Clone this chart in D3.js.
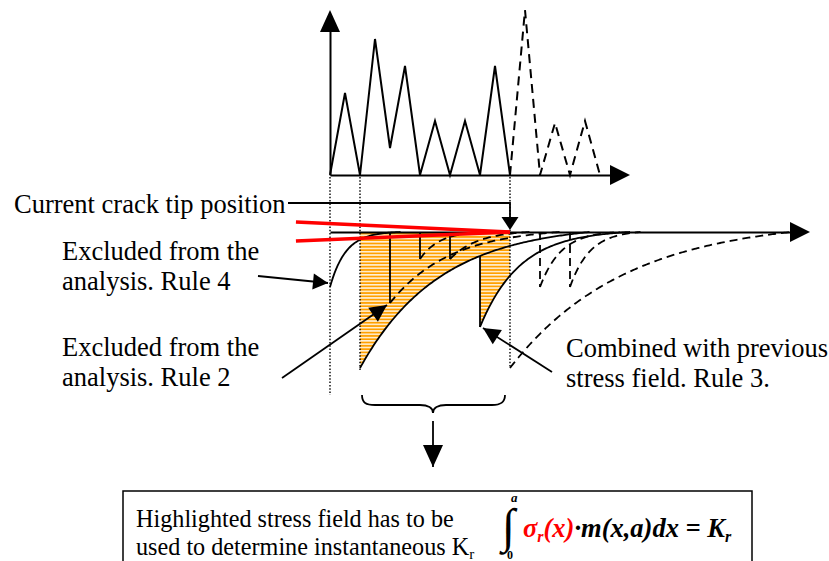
<!DOCTYPE html>
<meta charset="utf-8">
<style>
    body { margin: 0; background: #fff; }
    svg text { font-family: "Liberation Serif", "Times New Roman", serif; font-size: 26.5px; fill: #000; }
    .formula { font-weight: bold; font-style: italic; }
</style>
<body>
<div id="canvas"></div>
<script src="https://d3js.org/d3.v7.min.js"></script>
<script>

// load history, one value per half cycle (top chart)
var loadPast   = [0, 82, 0, 136, 27, 109, 0, 54, 0, 54, 0, 109, 0];
var loadFuture = [0, 165, 0, 52, 0, 54, 0];
var crackTip = 12;            // index where the past ends / current crack tip

// residual stress fields left by the overloads (bottom chart)
var fieldPos    = [0, 2, 4, 6, 8, 10, 12, 14, 16];
var fieldStress = [-55, -136, -71, -27, -27, -95, -136, -55, -55];
var fieldDecay  = [1.05, 5.33, 4, 1.33, 1.87, 2.67, 7.67, 1.4, 1.33];
var fieldLength = [4.7, 15.3, 11.3, 4, 5.3, 10, 18.7, 5.3, 4.7];
var fieldState  = ["rule4", "used", "rule2", "rule2", "rule2", "rule3", "future", "future", "future"];

// dotted guide lines between the two charts
var guidePos   = [0, 2, 12];
var guideDepth = [-163, -138, -136];

var svg = d3.select("#canvas").append("svg")
    .attr("width", 829)
    .attr("height", 561);

// scales
var x = d3.scaleLinear().domain([0, 1]).range([330, 345]);       // 15px per half cycle
var ly = d3.scaleLinear().domain([0, 165]).range([175, 10]);     // load
var sy = d3.scaleLinear().domain([0, -140]).range([232, 372]);   // stress

function arrowHead(tipX, tipY, dx, dy, len, half) {
    var n = Math.sqrt(dx * dx + dy * dy);
    dx /= n; dy /= n;
    var bx = tipX - dx * len, by = tipY - dy * len;
    var pts = [[tipX, tipY], [bx - dy * half, by + dx * half], [bx + dy * half, by - dx * half]];
    svg.append("path")
        .attr("d", "M" + pts.join("L") + "Z")
        .attr("fill", "#000");
}

function arrow(x1, y1, x2, y2, len, half) {
    svg.append("line")
        .attr("x1", x1).attr("y1", y1).attr("x2", x2).attr("y2", y2)
        .attr("stroke", "#000").attr("stroke-width", 1.8);
    arrowHead(x2, y2, x2 - x1, y2 - y1, len, half);
}

// ---- top chart : axes ----
var xTop = x.copy().domain([0, 19.3]).range([x(0), x(19.3)]);
svg.append("g")
    .attr("transform", "translate(0," + ly(0) + ")")
    .call(d3.axisBottom(xTop).tickValues([]).tickSizeOuter(0))
    .select(".domain").attr("stroke-width", 2);
svg.append("g")
    .attr("transform", "translate(" + x(0) + ",0)")
    .call(d3.axisLeft(ly.copy().range([175, 28])).tickValues([]).tickSizeOuter(0))
    .select(".domain").attr("stroke-width", 2);
arrowHead(x(0), ly(165), 0, -1, 22, 10);
arrowHead(x(20), ly(0), 1, 0, 20, 10);

// load sequence
var loadLine = d3.line()
    .x(function(d) { return x(d.i); })
    .y(function(d) { return ly(d.v); });

svg.append("path")
    .datum(loadPast.map(function(v, i) { return {i: i, v: v}; }))
    .attr("d", loadLine)
    .attr("fill", "none").attr("stroke", "#000").attr("stroke-width", 2);
svg.append("path")
    .datum(loadFuture.map(function(v, i) { return {i: i + crackTip, v: v}; }))
    .attr("d", loadLine)
    .attr("fill", "none").attr("stroke", "#000").attr("stroke-width", 2)
    .attr("stroke-dasharray", "9,6");

// ---- bottom chart ----
function fieldPoints(k, from, to) {
    var L = fieldDecay[k], D = fieldLength[k], e = Math.exp(-D / L);
    var a = from === undefined ? 0 : from, b = to === undefined ? D : to;
    return d3.range(a, b + 0.001, 0.1).map(function(t) {
        return {i: fieldPos[k] + t, s: fieldStress[k] * (Math.exp(-t / L) - e) / (1 - e)};
    });
}
function fieldValue(k, i) {
    var L = fieldDecay[k], D = fieldLength[k], e = Math.exp(-D / L), t = i - fieldPos[k];
    return fieldStress[k] * (Math.exp(-t / L) - e) / (1 - e);
}
var stressLine = d3.line()
    .x(function(d) { return x(d.i); })
    .y(function(d) { return sy(d.s); });

// hatched area : used field up to the combined one, then the combined field
var pattern = svg.append("defs").append("pattern")
    .attr("id", "hatch")
    .attr("patternUnits", "userSpaceOnUse")
    .attr("width", 8).attr("height", 3.3)
    .attr("y", sy(0));
pattern.append("rect")
    .attr("x", 0).attr("y", 0.6).attr("width", 8).attr("height", 2)
    .attr("fill", "#FFA000");

var used = fieldState.indexOf("used"), comb = fieldState.indexOf("rule3");
var lower = fieldPoints(used, 0, fieldPos[comb] - fieldPos[used])
    .concat(fieldPoints(comb, 0, crackTip - fieldPos[comb]));
var area = [{i: fieldPos[used], s: 0}, {i: crackTip, s: 0}]
    .concat(lower.reverse());
svg.append("path")
    .datum(area)
    .attr("d", stressLine(area) + "Z")
    .attr("fill", "url(#hatch)");

// guides
guidePos.forEach(function(p, k) {
    svg.append("line")
        .attr("x1", x(p)).attr("x2", x(p))
        .attr("y1", ly(0) + 2).attr("y2", sy(guideDepth[k]))
        .attr("stroke", "#000").attr("stroke-width", 1.4)
        .attr("stroke-dasharray", "1.5,1.8");
});

// stress axis
var xBottom = x.copy().domain([0, 31]).range([x(0), x(31)]);
svg.append("g")
    .attr("transform", "translate(0," + sy(0) + ")")
    .call(d3.axisBottom(xBottom).tickValues([]).tickSizeOuter(0))
    .select(".domain").attr("stroke-width", 2);
arrowHead(x(32), sy(0), 1, 0, 20, 10);

// stress fields
fieldStress.forEach(function(s, k) {
    var st = fieldState[k];
    var dashed = st === "future" || (st === "rule2");
    svg.append("path")
        .datum(fieldPoints(k))
        .attr("d", stressLine)
        .attr("fill", "none").attr("stroke", "#000").attr("stroke-width", 1.8)
        .attr("stroke-dasharray", dashed ? "8,5" : null);
    // step from the previous level down to the new field
    var top = null;
    if (st === "rule2" || (st === "future" && fieldPos[k] !== crackTip)) top = 0;
    if (st === "rule3") top = fieldValue(used, fieldPos[k]);
    if (top !== null) {
        svg.append("line")
            .attr("x1", x(fieldPos[k])).attr("x2", x(fieldPos[k]))
            .attr("y1", sy(top)).attr("y2", sy(s))
            .attr("stroke", "#000").attr("stroke-width", 1.8)
            .attr("stroke-dasharray", st === "future" ? "8,5" : null);
    }
});

// red lines converging at the crack tip
[10, -9].forEach(function(s) {
    svg.append("line")
        .attr("x1", x(-2.27)).attr("y1", sy(s))
        .attr("x2", x(crackTip)).attr("y2", sy(0))
        .attr("stroke", "#FF0000").attr("stroke-width", 3.5);
});

// current crack tip pointer
svg.append("path")
    .attr("d", "M288,203H" + x(crackTip) + "V218")
    .attr("fill", "none").attr("stroke", "#000").attr("stroke-width", 1.8);
arrowHead(x(crackTip), sy(0) - 2, 0, 1, 13, 8.5);

// annotation arrows
arrow(258, 276, 328, 283, 15, 8);
arrow(282, 378, 387, 305, 17, 8.5);
arrow(552, 372, 483, 328, 17, 8.5);

// brace and arrow down
svg.append("path")
    .attr("d", "M362,395 C362,403 366,405 375,405 L420,405 C428,405 433,408 433,413 C433,408 438,405 446,405 L492,405 C500,405 505,403 505,395")
    .attr("fill", "none").attr("stroke", "#000").attr("stroke-width", 1.8);
arrow(433, 421, 433, 467, 22, 10);

// labels
var labels = [
    {t: "Current crack tip position", x: 14, y: 213},
    {t: "Excluded from the", x: 62, y: 260},
    {t: "analysis. Rule 4", x: 62, y: 290},
    {t: "Excluded from the", x: 62, y: 356},
    {t: "analysis. Rule 2", x: 62, y: 386},
    {t: "Combined with previous", x: 566, y: 357},
    {t: "stress field. Rule 3.", x: 566, y: 387}
];
labels.forEach(function(d) {
    svg.append("text").attr("x", d.x).attr("y", d.y).text(d.t);
});

// bottom box
svg.append("rect")
    .attr("x", 123).attr("y", 491).attr("width", 629).attr("height", 90)
    .attr("fill", "none").attr("stroke", "#000").attr("stroke-width", 1.5);
svg.append("text").attr("x", 136).attr("y", 527).style("font-size", "24.2px").text("Highlighted stress field has to be");
var t2 = svg.append("text").attr("x", 136).attr("y", 555).style("font-size", "24.2px");
t2.append("tspan").text("used to determine instantaneous K");
t2.append("tspan").attr("dy", 4).style("font-size", "15px").text("r");

// formula
svg.append("text").attr("x", 502).attr("y", 542).style("font-size", "48px").style("font-weight", "bold").text("\u222B");
svg.append("text").attr("class", "formula").attr("x", 511).attr("y", 502).style("font-size", "13px").text("a");
svg.append("text").attr("class", "formula").attr("x", 507).attr("y", 559).style("font-style", "normal").style("font-size", "12px").text("0");
var f = svg.append("text").attr("class", "formula").attr("x", 523).attr("y", 537);
f.append("tspan").style("fill", "#FF0000").text("\u03C3");
f.append("tspan").style("fill", "#FF0000").attr("dy", 5).style("font-size", "16px").text("r");
f.append("tspan").style("fill", "#FF0000").attr("dy", -5).text("(x)");
f.append("tspan").text("\u00B7m(x,a)dx = K");
f.append("tspan").attr("dy", 5).style("font-size", "16px").text("r");

</script>
</body>
